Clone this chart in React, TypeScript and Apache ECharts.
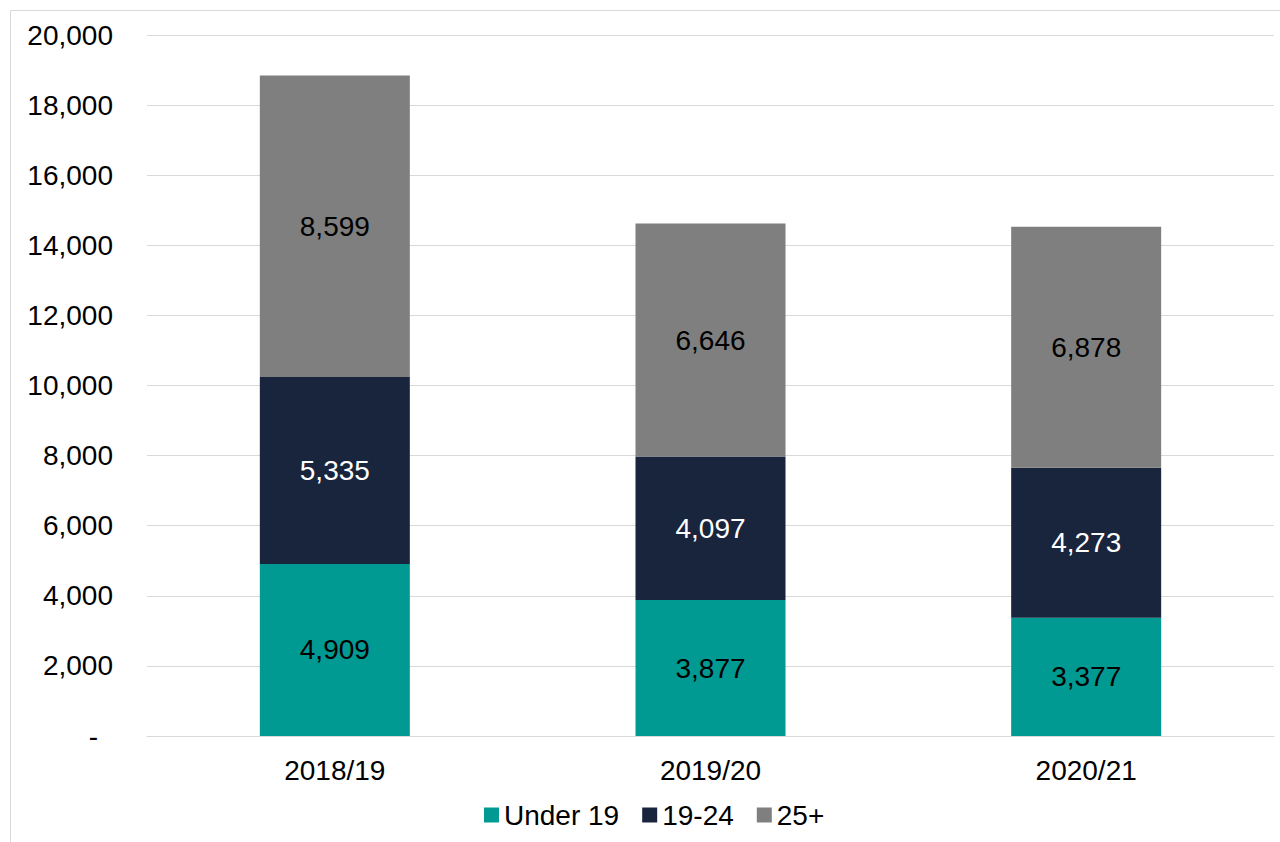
import React, { useEffect, useRef } from "react";
import * as echarts from "echarts";

const categories = ["2018/19", "2019/20", "2020/21"];
const under19 = [4909, 3877, 3377];
const age19to24 = [5335, 4097, 4273];
const age25plus = [8599, 6646, 6878];
const seriesNames = ["Under 19", "19-24", "25+"];
const colors = ["#009A92", "#19243D", "#7F7F7F"];
const labelColors = ["#000000", "#FFFFFF", "#000000"];

const FONT = "'Liberation Sans', Arial, sans-serif";
const FS = 28;

export default function App() {
  const ref = useRef<HTMLDivElement>(null);
  useEffect(() => {
    if (!ref.current) return;
    const chart = echarts.init(ref.current, null, { renderer: "svg" });
    const fmt = (v: number) => v.toLocaleString("en-US");
    const data = [under19, age19to24, age25plus];
    chart.setOption({
      animation: false,
      backgroundColor: "#ffffff",
      textStyle: { fontFamily: FONT },
      graphic: [
        {
          type: "rect",
          shape: { x: 10.5, y: 10.5, width: 1400, height: 1000 },
          style: { fill: "none", stroke: "#D9D9D9", lineWidth: 1 },
          silent: true,
        },
      ],
      grid: { left: 147, right: 6, top: 35, bottom: 106 },
      legend: {
        data: seriesNames,
        left: 484,
        top: 801,
        padding: 0,
        itemWidth: 15,
        itemHeight: 15,
        itemGap: 23,
        icon: "rect",
        textStyle: { fontSize: FS, color: "#000000", fontFamily: FONT },
      },
      xAxis: {
        type: "category",
        data: categories,
        axisLine: { lineStyle: { color: "#D9D9D9", width: 1 } },
        axisTick: { show: false },
        axisLabel: { fontSize: FS, color: "#000000", margin: 20, fontFamily: FONT },
      },
      yAxis: {
        type: "value",
        min: 0,
        max: 20000,
        interval: 2000,
        axisLine: { show: false },
        axisTick: { show: false },
        splitLine: { lineStyle: { color: "#D9D9D9", width: 1 } },
        axisLabel: {
          fontSize: FS,
          color: "#000000",
          margin: 34,
          fontFamily: FONT,
          formatter: (v: number) => (v === 0 ? "{d|-}" : fmt(v)),
          rich: {
            d: { fontSize: FS, color: "#000000", fontFamily: FONT, padding: [0, 15, 0, 0] },
          },
        },
      },
      series: seriesNames.map((name, i) => ({
        name,
        type: "bar",
        stack: "total",
        barWidth: 150,
        data: data[i],
        itemStyle: { color: colors[i] },
        label: {
          show: true,
          position: "inside",
          fontSize: FS,
          color: labelColors[i],
          fontFamily: FONT,
          formatter: (p: any) => fmt(p.value),
        },
      })),
    });
    return () => chart.dispose();
  }, []);
  return (
    <div
      ref={ref}
      style={{ position: "fixed", left: 0, top: 0, width: 1280, height: 842 }}
    />
  );
}
